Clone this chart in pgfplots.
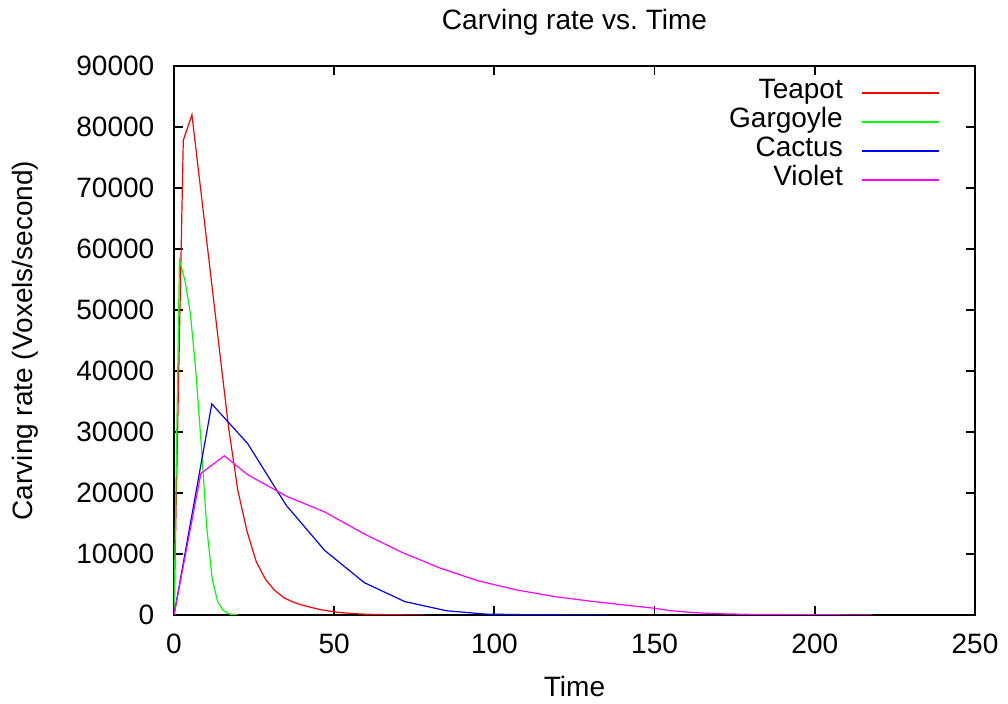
\documentclass[border=0pt]{standalone}
\usepackage{fontspec}
\setmainfont{Liberation Sans}
\usepackage{pgfplots}
\pgfplotsset{compat=1.18}
\definecolor{gpred}{rgb}{1,0,0}
\definecolor{gpgreen}{rgb}{0,1,0}
\definecolor{gpblue}{rgb}{0,0,1}
\definecolor{gpmagenta}{rgb}{1,0,1}

\begin{document}
\fontsize{14}{16.8}\selectfont
\begin{tikzpicture}
\begin{axis}[
  scale only axis,
  width=400.5pt, height=274.5pt,
  xmin=0, xmax=250, ymin=0, ymax=90000,
  xtick={0,50,...,250},
  ytick={0,10000,...,90000},
  scaled y ticks=false,
  /pgf/number format/1000 sep={},
  /pgf/number format/assume math mode=true,
  tick align=inside, tick pos=both,
  major tick length=4.5pt,
  axis line style={line width=0.9pt},
  every tick/.style={black, line width=0.9pt},
  yticklabel style={xshift=-5pt},
  xticklabel style={yshift=-4.5pt},
  title={Carving rate vs.\ Time},
  every axis title/.style={at={(axis description cs:0.5,1)}, anchor=center, yshift=22pt},
  xlabel={Time},
  every axis x label/.style={at={(axis description cs:0.5,0)}, anchor=center, yshift=-36pt},
  ylabel={Carving rate (Voxels/second)},
  every axis y label/.style={at={(axis description cs:0,0.5)}, xshift=-74.5pt, rotate=90, anchor=center},
  legend plot pos=right,
  legend cell align=right,
  legend image code/.code={\draw[#1, line width=0.9pt] (0pt,0pt) -- (38.5pt,0pt);},
  legend style={at={(rel axis cs:1,1)}, anchor=north east, xshift=-17.5pt, yshift=-6pt,
    draw=none, fill=none, inner sep=0pt, row sep=0pt, column sep=9pt,
    nodes={inner sep=0pt, text height=10pt, text depth=4.5pt}},
]
% Teapot
\addplot[color=gpred, line width=0.6pt] coordinates {
(0,0) (2.9,77800) (5.6,82000) (8.5,69000) (11.4,56000) (14.2,43400)
(17.1,30500) (19.9,20500) (22.8,13700) (25.7,8700) (28.6,5800) (31.5,4000)
(34.4,2800) (37.3,2100) (40.2,1600) (43.1,1200) (46,850) (48.9,600)
(51.8,400) (54.7,280) (57.6,180) (60.5,120) (66,60) (72,20) (78,0)
};
\addlegendentry{Teapot}
% Gargoyle
\addplot[color=gpgreen, line width=0.6pt] coordinates {
(0,0) (1.7,58200) (3.4,54900) (5.1,49500) (6.8,40000) (8.5,28000)
(10.2,14500) (11.9,6000) (13.6,2200) (15.3,800) (17,200) (18.7,50) (20,0)
};
\addlegendentry{Gargoyle}
% Cactus
\addplot[color=gpblue, line width=0.6pt] coordinates {
(0,0) (11.8,34600) (23,28100) (35,18000) (47,10600) (59.4,5300)
(72,2200) (85,700) (97,150) (110,50) (122,20) (135,0)
};
\addlegendentry{Cactus}
% Violet
\addplot[color=gpmagenta, line width=0.6pt] coordinates {
(0,0) (8.4,23200) (15.7,26100) (23,23000) (35,19500) (47,16900)
(59,13400) (71,10300) (83,7700) (95,5600) (107,4100) (119,3000)
(131,2200) (143,1500) (150,1100) (155,700) (162,400) (170,200)
(180,100) (195,50) (218,0)
};
\addlegendentry{Violet}
\end{axis}
\pgfresetboundingbox
\path[use as bounding box] (-87pt,-44.5pt) rectangle (417pt,307.5pt);
\end{tikzpicture}
\end{document}
